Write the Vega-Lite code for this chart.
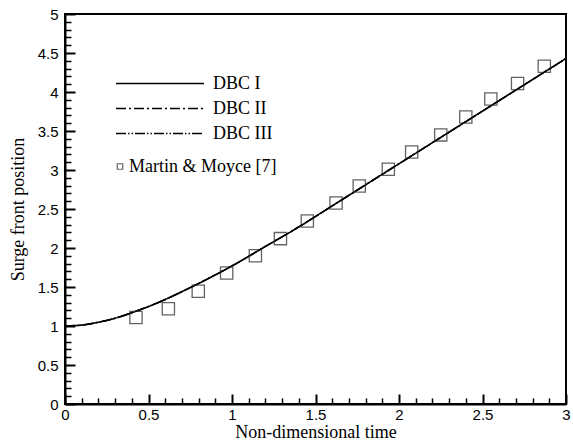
{
  "$schema": "https://vega.github.io/schema/vega-lite/v6.json",
  "width": 501,
  "height": 390,
  "autosize": {"type": "none"},
  "padding": {"left": 65, "top": 14, "right": 7, "bottom": 37},
  "background": "white",
  "config": {
    "view": {"stroke": "black", "strokeWidth": 2},
    "axis": {
      "grid": false,
      "domainColor": "black",
      "domainWidth": 2,
      "tickColor": "black",
      "labelColor": "black",
      "titleColor": "black",
      "labelFont": "Liberation Sans",
      "labelFontSize": 15,
      "titleFont": "Liberation Serif",
      "titleFontSize": 18,
      "titleFontWeight": "normal",
      "labelFlush": false
    },
    "legend": {
      "labelFont": "Liberation Serif",
      "labelFontSize": 18,
      "labelColor": "black",
      "padding": 0,
      "rowPadding": 0,
      "title": null
    }
  },
  "datasets": {
    "curve": [
      {"series": "DBC I", "t": 0.0, "x": 1.0},
      {"series": "DBC I", "t": 0.1, "x": 1.012},
      {"series": "DBC I", "t": 0.2, "x": 1.048},
      {"series": "DBC I", "t": 0.3, "x": 1.1},
      {"series": "DBC I", "t": 0.4, "x": 1.17},
      {"series": "DBC I", "t": 0.5, "x": 1.25},
      {"series": "DBC I", "t": 0.6, "x": 1.34},
      {"series": "DBC I", "t": 0.7, "x": 1.44},
      {"series": "DBC I", "t": 0.8, "x": 1.545},
      {"series": "DBC I", "t": 0.9, "x": 1.655},
      {"series": "DBC I", "t": 1.0, "x": 1.77},
      {"series": "DBC I", "t": 1.2, "x": 2.02},
      {"series": "DBC I", "t": 1.4, "x": 2.27},
      {"series": "DBC I", "t": 1.6, "x": 2.54},
      {"series": "DBC I", "t": 1.8, "x": 2.81},
      {"series": "DBC I", "t": 2.0, "x": 3.08},
      {"series": "DBC I", "t": 2.2, "x": 3.35},
      {"series": "DBC I", "t": 2.4, "x": 3.62},
      {"series": "DBC I", "t": 2.6, "x": 3.89},
      {"series": "DBC I", "t": 2.8, "x": 4.16},
      {"series": "DBC I", "t": 3.0, "x": 4.43},
      {"series": "DBC II", "t": 0.0, "x": 1.0},
      {"series": "DBC II", "t": 0.1, "x": 1.012},
      {"series": "DBC II", "t": 0.2, "x": 1.048},
      {"series": "DBC II", "t": 0.3, "x": 1.1},
      {"series": "DBC II", "t": 0.4, "x": 1.17},
      {"series": "DBC II", "t": 0.5, "x": 1.25},
      {"series": "DBC II", "t": 0.6, "x": 1.34},
      {"series": "DBC II", "t": 0.7, "x": 1.44},
      {"series": "DBC II", "t": 0.8, "x": 1.545},
      {"series": "DBC II", "t": 0.9, "x": 1.655},
      {"series": "DBC II", "t": 1.0, "x": 1.77},
      {"series": "DBC II", "t": 1.2, "x": 2.02},
      {"series": "DBC II", "t": 1.4, "x": 2.27},
      {"series": "DBC II", "t": 1.6, "x": 2.54},
      {"series": "DBC II", "t": 1.8, "x": 2.81},
      {"series": "DBC II", "t": 2.0, "x": 3.08},
      {"series": "DBC II", "t": 2.2, "x": 3.35},
      {"series": "DBC II", "t": 2.4, "x": 3.62},
      {"series": "DBC II", "t": 2.6, "x": 3.89},
      {"series": "DBC II", "t": 2.8, "x": 4.16},
      {"series": "DBC II", "t": 3.0, "x": 4.43},
      {"series": "DBC III", "t": 0.0, "x": 1.0},
      {"series": "DBC III", "t": 0.1, "x": 1.012},
      {"series": "DBC III", "t": 0.2, "x": 1.048},
      {"series": "DBC III", "t": 0.3, "x": 1.1},
      {"series": "DBC III", "t": 0.4, "x": 1.17},
      {"series": "DBC III", "t": 0.5, "x": 1.25},
      {"series": "DBC III", "t": 0.6, "x": 1.34},
      {"series": "DBC III", "t": 0.7, "x": 1.44},
      {"series": "DBC III", "t": 0.8, "x": 1.545},
      {"series": "DBC III", "t": 0.9, "x": 1.655},
      {"series": "DBC III", "t": 1.0, "x": 1.77},
      {"series": "DBC III", "t": 1.2, "x": 2.02},
      {"series": "DBC III", "t": 1.4, "x": 2.27},
      {"series": "DBC III", "t": 1.6, "x": 2.54},
      {"series": "DBC III", "t": 1.8, "x": 2.81},
      {"series": "DBC III", "t": 2.0, "x": 3.08},
      {"series": "DBC III", "t": 2.2, "x": 3.35},
      {"series": "DBC III", "t": 2.4, "x": 3.62},
      {"series": "DBC III", "t": 2.6, "x": 3.89},
      {"series": "DBC III", "t": 2.8, "x": 4.16},
      {"series": "DBC III", "t": 3.0, "x": 4.43}
    ],
    "exp": [
      {"source": "Martin & Moyce [7]", "t": 0.425, "x": 1.11},
      {"source": "Martin & Moyce [7]", "t": 0.619, "x": 1.22},
      {"source": "Martin & Moyce [7]", "t": 0.798, "x": 1.445},
      {"source": "Martin & Moyce [7]", "t": 0.968, "x": 1.68},
      {"source": "Martin & Moyce [7]", "t": 1.14, "x": 1.9},
      {"source": "Martin & Moyce [7]", "t": 1.29, "x": 2.12},
      {"source": "Martin & Moyce [7]", "t": 1.451, "x": 2.346},
      {"source": "Martin & Moyce [7]", "t": 1.623, "x": 2.577},
      {"source": "Martin & Moyce [7]", "t": 1.762, "x": 2.795},
      {"source": "Martin & Moyce [7]", "t": 1.936, "x": 3.01},
      {"source": "Martin & Moyce [7]", "t": 2.076, "x": 3.23},
      {"source": "Martin & Moyce [7]", "t": 2.25, "x": 3.45},
      {"source": "Martin & Moyce [7]", "t": 2.4, "x": 3.68},
      {"source": "Martin & Moyce [7]", "t": 2.55, "x": 3.91},
      {"source": "Martin & Moyce [7]", "t": 2.71, "x": 4.11},
      {"source": "Martin & Moyce [7]", "t": 2.87, "x": 4.33}
    ]
  },
  "layer": [
    {
      "data": {"name": "curve"},
      "mark": {"type": "line", "interpolate": "monotone", "color": "black", "strokeWidth": 1.5},
      "encoding": {
        "x": {
          "field": "t", "type": "quantitative",
          "scale": {"domain": [0, 3], "nice": false},
          "axis": {"orient": "bottom", "values": [0, 0.5, 1, 1.5, 2, 2.5, 3], "format": "~g", "tickSize": -10, "tickWidth": 2, "labelPadding": 13, "title": "Non-dimensional time", "titlePadding": 1}
        },
        "y": {
          "field": "x", "type": "quantitative",
          "scale": {"domain": [0, 5], "nice": false},
          "axis": {"orient": "left", "values": [0, 0.5, 1, 1.5, 2, 2.5, 3, 3.5, 4, 4.5, 5], "format": "~g", "tickSize": -10, "tickWidth": 2, "labelPadding": 17, "title": "Surge front position", "titlePadding": 10}
        },
        "strokeDash": {
          "field": "series", "type": "nominal",
          "scale": {"domain": ["DBC I", "DBC II", "DBC III"], "range": [[1, 0], [10, 3, 2, 3], [10, 2, 1.5, 2, 1.5, 2]]},
          "legend": {"orient": "none", "legendX": 50, "legendY": 57, "symbolType": "stroke", "symbolSize": 7744, "clipHeight": 25, "symbolStrokeColor": "black", "symbolStrokeWidth": 1.3, "labelOffset": 8, "title": null}
        }
      }
    },
    {
      "data": {"name": "exp"},
      "mark": {"type": "point", "shape": "square", "filled": false, "size": 150, "stroke": "#222222", "strokeWidth": 1.3},
      "encoding": {
        "x": {
          "field": "t", "type": "quantitative",
          "scale": {"domain": [0, 3], "nice": false},
          "axis": {"orient": "bottom", "values": [0.1, 0.2, 0.3, 0.4, 0.6, 0.7, 0.8, 0.9, 1.1, 1.2, 1.3, 1.4, 1.6, 1.7, 1.8, 1.9, 2.1, 2.2, 2.3, 2.4, 2.6, 2.7, 2.8, 2.9], "labels": false, "domain": false, "tickSize": -6, "tickWidth": 1.5, "title": null}
        },
        "y": {
          "field": "x", "type": "quantitative",
          "scale": {"domain": [0, 5], "nice": false},
          "axis": {"orient": "left", "values": [0.1, 0.2, 0.3, 0.4, 0.6, 0.7, 0.8, 0.9, 1.1, 1.2, 1.3, 1.4, 1.6, 1.7, 1.8, 1.9, 2.1, 2.2, 2.3, 2.4, 2.6, 2.7, 2.8, 2.9, 3.1, 3.2, 3.3, 3.4, 3.6, 3.7, 3.8, 3.9, 4.1, 4.2, 4.3, 4.4, 4.6, 4.7, 4.8, 4.9], "labels": false, "domain": false, "tickSize": -6, "tickWidth": 1.5, "title": null}
        },
        "shape": {
          "field": "source", "type": "nominal",
          "scale": {"range": ["square"]},
          "legend": {"orient": "none", "legendX": 46, "legendY": 140, "symbolSize": 30, "clipHeight": 25, "symbolStrokeColor": "#222222", "symbolFillColor": "transparent", "symbolStrokeWidth": 1.2, "labelOffset": 0, "title": null}
        }
      }
    }
  ],
  "resolve": {"axis": {"x": "independent", "y": "independent"}}
}
